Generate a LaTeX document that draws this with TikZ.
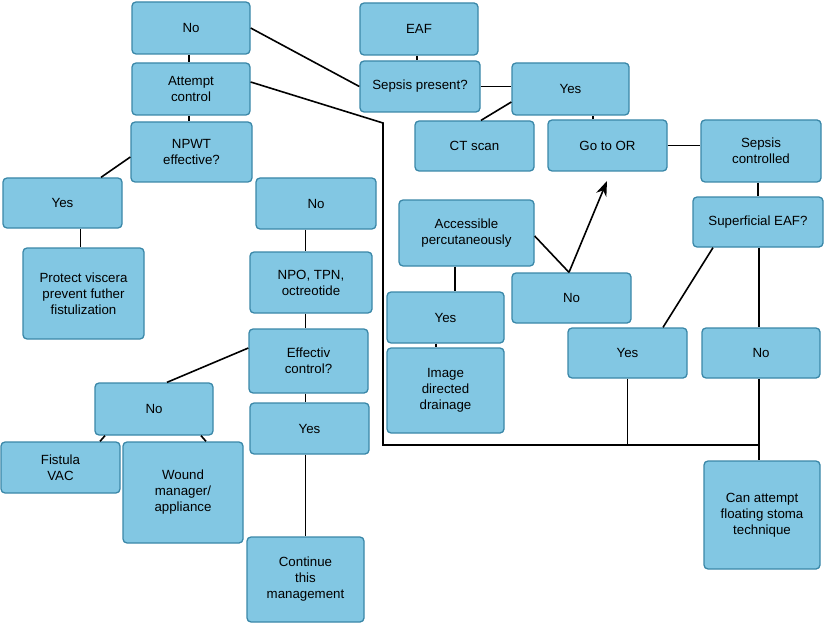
\documentclass[tikz,border=0pt]{standalone}
\usepackage{fontspec}
\setmainfont{Liberation Sans}
\usetikzlibrary{arrows.meta}
\definecolor{boxfill}{HTML}{82C7E3}
\definecolor{boxline}{HTML}{3A87A8}

\begin{document}
\begin{tikzpicture}[x=1pt, y=-1pt, line width=1.6pt]
			\tikzstyle{box} = [draw=boxline, fill=boxfill, rounded corners=4pt, line width=1.3pt,
				align=center, inner sep=2pt, font=\fontsize{13.3}{16}\selectfont]
			\useasboundingbox (0,0) rectangle (825,623);
			% left column
			\node[box, minimum width=118pt, minimum height=52pt] (noA) at (191,28) {No};
			\node[box, minimum width=118pt, minimum height=52pt] (attempt) at (191,89) {Attempt\\control};
			\node[box, minimum width=121pt, minimum height=60pt] (npwt) at (191.5,152) {NPWT\\effective?};
			\node[box, minimum width=119pt, minimum height=50pt] (yesA) at (62.5,203) {Yes};
			\node[box, minimum width=121pt, minimum height=91pt] (protect) at (83.5,293.5) {Protect viscera\\prevent futher\\fistulization};
			\node[box, minimum width=120pt, minimum height=51pt] (noB) at (316,203.5) {No};
			\node[box, minimum width=122pt, minimum height=61pt] (npo) at (311,282.5) {NPO, TPN,\\octreotide};
			\node[box, minimum width=119pt, minimum height=64pt] (effectiv) at (308.5,361) {Effectiv\\control?};
			\node[box, minimum width=119pt, minimum height=51pt] (yesB) at (309.5,428.5) {Yes};
			\node[box, minimum width=117pt, minimum height=85pt] (cont) at (305.5,579.5) {Continue\\this\\management};
			\node[box, minimum width=118pt, minimum height=52pt] (noC) at (154,409) {No};
			\node[box, minimum width=119pt, minimum height=51pt] (fistula) at (60.5,467.5) {Fistula\\VAC};
			\node[box, minimum width=120pt, minimum height=101pt] (wound) at (183,492.5) {Wound\\manager/\\appliance};
			% right column
			\node[box, minimum width=118pt, minimum height=52pt] (eaf) at (419,29) {EAF};
			\node[box, minimum width=120pt, minimum height=51pt] (sepsisP) at (420,86.5) {Sepsis present?};
			\node[box, minimum width=117pt, minimum height=52pt] (yesC) at (570.5,89) {Yes};
			\node[box, minimum width=119pt, minimum height=50pt] (ct) at (474.5,146) {CT scan};
			\node[box, minimum width=119pt, minimum height=51pt] (goOR) at (607.5,145.5) {Go to OR};
			\node[box, minimum width=120pt, minimum height=62pt] (sepsisC) at (761,151) {Sepsis\\controlled};
			\node[box, minimum width=130pt, minimum height=50pt] (superf) at (758,222) {Superficial EAF?};
			\node[box, minimum width=135pt, minimum height=66pt] (access) at (466.5,233) {Accessible\\percutaneously};
			\node[box, minimum width=119pt, minimum height=50pt] (noD) at (571.5,298) {No};
			\node[box, minimum width=117pt, minimum height=51pt] (yesD) at (445.5,317.5) {Yes};
			\node[box, minimum width=117pt, minimum height=85pt] (image) at (445.5,390.5) {Image\\directed\\drainage};
			\node[box, minimum width=119pt, minimum height=50pt] (yesE) at (627.5,353) {Yes};
			\node[box, minimum width=118pt, minimum height=50pt] (noE) at (761,353) {No};
			\node[box, minimum width=116pt, minimum height=108pt] (canatt) at (762,515) {Can attempt\\floating stoma\\technique};
			\coordinate (bendA) at (383,123);
			\coordinate (bendB) at (383,445);
			\coordinate (tip) at (607,181);
			% connectors
			\draw (noA.east) -- (sepsisP.west);
			\draw ([xshift=-2pt]noA.south) -- ([xshift=-2pt]attempt.north);
			\draw ([xshift=-2pt]attempt.south) -- ([xshift=-2.5pt]npwt.north);
			\draw ([yshift=7pt]attempt.east) -- (bendA) -- (bendB) -- ([xshift=-2pt]bendB -| noE.south);
			\draw ([yshift=-5pt]npwt.west) -- ([xshift=38.5pt]yesA.north);
			\draw ([xshift=-3pt]protect.north |- yesA.south) -- ([xshift=-3pt]protect.north);
			\foreach \from/\to in {noB/npo, npo/effectiv, effectiv/yesB, yesB/cont}
			\draw (\from.south -| cont.north) -- (\to.north -| cont.north);
			\draw ([yshift=13pt]effectiv.west) -- ([xshift=13pt]noC.north);
			\draw ([xshift=-49pt]noC.south) -- ([xshift=39.5pt]fistula.north);
			\draw ([xshift=47pt]noC.south) -- ([xshift=23pt]wound.north);
			\draw ([xshift=-2pt]eaf.south) -- ([xshift=-2pt]eaf.south |- sepsisP.north);
			\draw (sepsisP.east) -- (sepsisP.east -| yesC.west);
			\draw ([yshift=-13pt]yesC.west) -- ([xshift=6.5pt]ct.north);
			\draw ([xshift=-14.5pt]goOR.north) -- ([xshift=-14.5pt]goOR.north |- yesC.south);
			\draw (goOR.east) -- (goOR.east -| sepsisC.west);
			\draw ([xshift=-3pt]sepsisC.south) -- ([xshift=-3pt]sepsisC.south |- superf.north);
			\draw ([xshift=-45pt]superf.south) -- ([xshift=35.5pt]yesE.north);
			\draw ([xshift=-2pt]noE.north |- superf.south) -- ([xshift=-2pt]noE.north);
			\draw ([yshift=-3pt]access.east) -- ([xshift=-2.5pt]noD.north);
			\draw[-{Stealth[length=15pt,width=11pt]}] ([xshift=-2.5pt]noD.north) -- (tip);
			\draw ([xshift=-11.5pt]access.south) -- ([xshift=9.5pt]yesD.north);
			\draw ([xshift=-9.5pt]yesD.south) -- ([xshift=-9.5pt]image.north);
			\draw (yesE.south) -- (yesE.south |- bendB);
			\draw ([xshift=-2pt]noE.south) -- ([xshift=-2pt]noE.south |- canatt.north);
\end{tikzpicture}
\end{document}
